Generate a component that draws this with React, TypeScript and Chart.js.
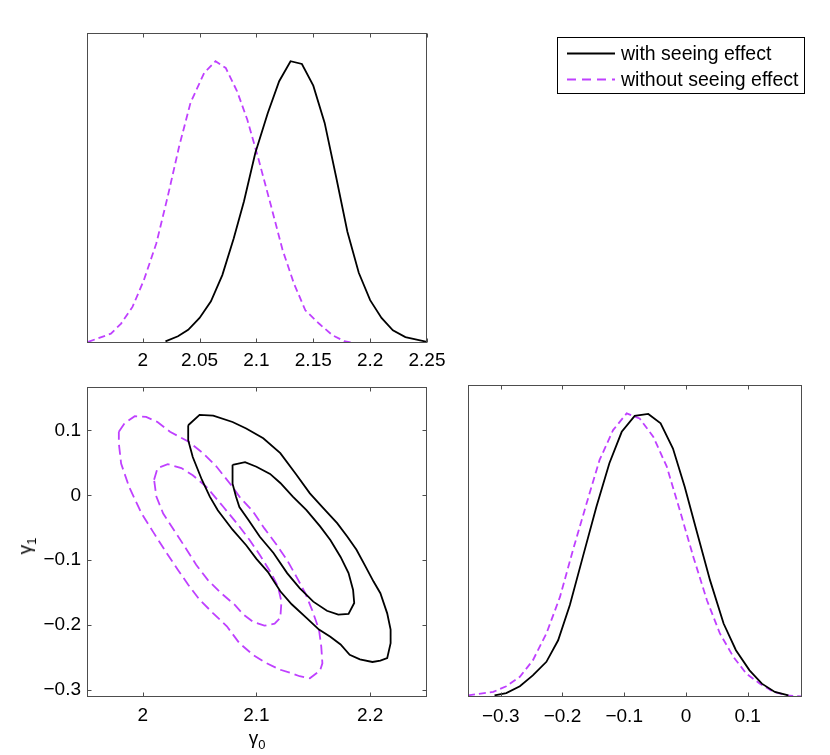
import React, { useEffect, useRef } from "react";
import { Chart, registerables } from "chart.js";

Chart.register(...registerables);

const FONT = '"Liberation Sans", Arial, Helvetica, sans-serif';
const BLACK = "#000000";
const PURPLE = "#bf40ff";
const FRAME = "#4d4d4d";

// ---- gamma0 marginal (top panel) ----
const g0Min = 1.951;
const g0Max = 2.25;
const g0Ticks = [2, 2.05, 2.1, 2.15, 2.2, 2.25];
const g0TickLabels = ["2", "2.05", "2.1", "2.15", "2.2", "2.25"];

const g0WithX = [2.02, 2.031, 2.04, 2.05, 2.06, 2.07, 2.08, 2.089, 2.099, 2.11, 2.12, 2.13, 2.14, 2.15, 2.16, 2.17, 2.18, 2.19, 2.2, 2.21, 2.22, 2.231, 2.25];
const g0WithY = [0.006, 0.024, 0.047, 0.089, 0.148, 0.241, 0.371, 0.502, 0.674, 0.816, 0.929, 1.0, 0.99, 0.913, 0.781, 0.591, 0.395, 0.249, 0.152, 0.089, 0.045, 0.021, 0.004];

const g0WithoutX = [1.952, 1.972, 1.981, 1.991, 2.001, 2.012, 2.022, 2.032, 2.042, 2.054, 2.064, 2.073, 2.083, 2.092, 2.102, 2.113, 2.123, 2.133, 2.143, 2.155, 2.167, 2.177, 2.186];
const g0WithoutY = [0.004, 0.033, 0.069, 0.128, 0.223, 0.354, 0.52, 0.697, 0.852, 0.958, 1.0, 0.976, 0.893, 0.792, 0.65, 0.484, 0.33, 0.211, 0.116, 0.069, 0.027, 0.007, 0.0];

// ---- gamma1 marginal (bottom right panel) ----
const g1Min = -0.353;
const g1Max = 0.188;
const g1Ticks = [-0.3, -0.2, -0.1, 0, 0.1];
const g1TickLabels = ["\u22120.3", "\u22120.2", "\u22120.1", "0", "0.1"];

const g1WithX = [-0.31, -0.291, -0.269, -0.248, -0.226, -0.207, -0.188, -0.167, -0.145, -0.124, -0.104, -0.083, -0.061, -0.041, -0.021, -0.002, 0.017, 0.039, 0.061, 0.081, 0.103, 0.123, 0.144, 0.166];
const g1WithY = [0.006, 0.014, 0.038, 0.076, 0.124, 0.2, 0.324, 0.494, 0.671, 0.824, 0.935, 0.991, 0.998, 0.965, 0.876, 0.741, 0.588, 0.412, 0.259, 0.165, 0.094, 0.047, 0.018, 0.006];

const g1WithoutX = [-0.353, -0.312, -0.291, -0.269, -0.248, -0.226, -0.204, -0.183, -0.161, -0.14, -0.118, -0.096, -0.075, -0.053, -0.031, -0.01, 0.012, 0.034, 0.055, 0.077, 0.098, 0.12, 0.142, 0.163, 0.188];
const g1WithoutY = [0.006, 0.018, 0.038, 0.071, 0.129, 0.224, 0.353, 0.518, 0.682, 0.835, 0.941, 1.0, 0.982, 0.918, 0.812, 0.659, 0.494, 0.341, 0.224, 0.141, 0.082, 0.047, 0.018, 0.006, 0.002];

// ---- joint contours (bottom left panel) ----
const jointXTicks = [2, 2.1, 2.2];
const jointXLabels = ["2", "2.1", "2.2"];
const jointYMin = -0.311;
const jointYMax = 0.167;
const jointYTicks = [-0.3, -0.2, -0.1, 0, 0.1];
const jointYLabels = ["\u22120.3", "\u22120.2", "\u22120.1", "0", "0.1"];

const withOuterX = [2.04, 2.05, 2.062, 2.079, 2.091, 2.106, 2.121, 2.135, 2.147, 2.159, 2.171, 2.18, 2.188, 2.196, 2.203, 2.209, 2.215, 2.218, 2.218, 2.215, 2.209, 2.202, 2.191, 2.182, 2.174, 2.165, 2.155, 2.144, 2.131, 2.121, 2.11, 2.1, 2.091, 2.079, 2.066, 2.059, 2.052, 2.044, 2.04];
const withOuterY = [0.108, 0.124, 0.123, 0.113, 0.103, 0.088, 0.065, 0.032, 0.003, -0.02, -0.043, -0.064, -0.084, -0.11, -0.133, -0.151, -0.182, -0.207, -0.228, -0.251, -0.255, -0.257, -0.253, -0.246, -0.23, -0.218, -0.207, -0.189, -0.168, -0.148, -0.118, -0.098, -0.077, -0.053, -0.023, -0.002, 0.024, 0.059, 0.085];

const withInnerX = [2.079, 2.09, 2.1, 2.112, 2.121, 2.132, 2.144, 2.156, 2.165, 2.174, 2.181, 2.185, 2.186, 2.181, 2.172, 2.162, 2.15, 2.138, 2.127, 2.115, 2.103, 2.093, 2.085, 2.082, 2.079];
const withInnerY = [0.047, 0.051, 0.044, 0.033, 0.019, -0.002, -0.023, -0.048, -0.069, -0.095, -0.12, -0.146, -0.166, -0.183, -0.184, -0.178, -0.164, -0.143, -0.12, -0.089, -0.064, -0.038, -0.018, -0.002, 0.018];

const withoutOuterX = [1.979, 1.984, 1.993, 2.003, 2.013, 2.024, 2.04, 2.053, 2.065, 2.079, 2.085, 2.097, 2.107, 2.118, 2.127, 2.135, 2.143, 2.149, 2.155, 2.157, 2.158, 2.156, 2.147, 2.138, 2.132, 2.121, 2.109, 2.097, 2.085, 2.074, 2.062, 2.05, 2.04, 2.031, 2.021, 2.009, 1.999, 1.988, 1.981, 1.979];
const withoutOuterY = [0.098, 0.111, 0.122, 0.121, 0.113, 0.098, 0.083, 0.065, 0.044, 0.013, -0.002, -0.025, -0.051, -0.077, -0.1, -0.125, -0.151, -0.177, -0.207, -0.233, -0.259, -0.27, -0.282, -0.279, -0.275, -0.269, -0.259, -0.246, -0.228, -0.202, -0.182, -0.161, -0.138, -0.115, -0.089, -0.056, -0.028, 0.013, 0.049, 0.08];

const withoutInnerX = [2.01, 2.013, 2.022, 2.034, 2.044, 2.056, 2.071, 2.085, 2.094, 2.103, 2.113, 2.119, 2.122, 2.121, 2.116, 2.107, 2.097, 2.088, 2.081, 2.069, 2.057, 2.047, 2.038, 2.028, 2.018, 2.012];
const withoutInnerY = [0.024, 0.042, 0.048, 0.042, 0.031, 0.013, -0.018, -0.048, -0.069, -0.092, -0.12, -0.141, -0.164, -0.189, -0.198, -0.201, -0.195, -0.183, -0.169, -0.151, -0.13, -0.107, -0.082, -0.055, -0.028, -0.002];

const LABEL_WITH = "with seeing effect";
const LABEL_WITHOUT = "without seeing effect";

const pts = (xs: number[], ys: number[], closed = false) => {
  const p = xs.map((x, i) => ({ x, y: ys[i] }));
  if (closed) p.push({ ...p[0] });
  return p;
};

const line = (label: string, data: { x: number; y: number }[], color: string, dash: number[]) => ({
  label,
  data,
  showLine: true,
  borderColor: color,
  backgroundColor: color,
  borderWidth: 1.8,
  borderDash: dash,
  pointRadius: 0,
  pointHoverRadius: 0,
  tension: 0,
  fill: false,
});

// box with inward ticks, matlab style
const framePlugin = {
  id: "frame",
  afterDatasetsDraw(chart: any, _args: any, opts: any) {
    const { ctx, chartArea: a } = chart;
    const l = Math.round(a.left) + 0.5;
    const r = Math.round(a.right) - 0.5;
    const t = Math.round(a.top) + 0.5;
    const b = Math.round(a.bottom) - 0.5;
    const len = 4;
    ctx.save();
    ctx.strokeStyle = FRAME;
    ctx.lineWidth = 1;
    ctx.setLineDash([]);
    ctx.strokeRect(l, t, r - l, b - t);
    ctx.beginPath();
    chart.scales.x.ticks.forEach((tk: any) => {
      const px = Math.round(chart.scales.x.getPixelForValue(tk.value)) + 0.5;
      ctx.moveTo(px, b);
      ctx.lineTo(px, b - len);
      ctx.moveTo(px, t);
      ctx.lineTo(px, t + len);
    });
    if (opts && opts.yTicks) {
      chart.scales.y.ticks.forEach((tk: any) => {
        const py = Math.round(chart.scales.y.getPixelForValue(tk.value)) + 0.5;
        ctx.moveTo(l, py);
        ctx.lineTo(l + len, py);
        ctx.moveTo(r, py);
        ctx.lineTo(r - len, py);
      });
    }
    ctx.stroke();
    ctx.restore();
  },
};

const legendBoxPlugin = {
  id: "legendBox",
  afterDraw(chart: any, _args: any, opts: any) {
    const { ctx } = chart;
    const { left, top, width, height } = opts;
    ctx.save();
    ctx.fillStyle = "#fff";
    ctx.fillRect(left, top, width, height);
    ctx.strokeStyle = BLACK;
    ctx.lineWidth = 1;
    ctx.setLineDash([]);
    ctx.strokeRect(left + 0.5, top + 0.5, width, height);
    ctx.font = `19.5px ${FONT}`;
    ctx.textBaseline = "middle";
    chart.data.datasets.forEach((ds: any, i: number) => {
      const y = top + 16.5 + i * 26;
      ctx.beginPath();
      ctx.strokeStyle = ds.borderColor;
      ctx.lineWidth = ds.borderWidth;
      ctx.setLineDash(ds.borderDash.length ? [9, 6] : []);
      ctx.moveTo(left + 10, y);
      ctx.lineTo(left + 58, y);
      ctx.stroke();
      ctx.fillStyle = BLACK;
      ctx.fillText(ds.label, left + 64, y + 1);
    });
    ctx.restore();
  },
};

const xAxis = (min: number, max: number, ticks: number[], labels: string[], height: number, pad: number) => ({
  type: "linear" as const,
  min,
  max,
  grid: { display: false, drawTicks: false },
  border: { display: false },
  ticks: {
    color: BLACK,
    font: { family: FONT, size: 19 },
    padding: pad,
    maxRotation: 0,
    autoSkip: false,
    callback: (_v: any, i: number) => labels[i],
  },
  afterBuildTicks: (s: any) => {
    s.ticks = ticks.map((v) => ({ value: v }));
  },
  afterFit: (s: any) => {
    s.height = height;
    s.paddingLeft = 0;
    s.paddingRight = 0;
  },
});

const yAxis = (min: number, max: number, width: number, ticks?: number[], labels?: string[]) => ({
  type: "linear" as const,
  min,
  max,
  grid: { display: false, drawTicks: false },
  border: { display: false },
  ticks: {
    display: !!ticks,
    color: BLACK,
    font: { family: FONT, size: 19 },
    padding: 6,
    autoSkip: false,
    callback: (_v: any, i: number) => (labels ? labels[i] : ""),
  },
  afterBuildTicks: (s: any) => {
    if (ticks) s.ticks = ticks.map((v) => ({ value: v }));
  },
  afterFit: (s: any) => {
    s.width = width;
    s.paddingTop = 0;
    s.paddingBottom = 0;
  },
});

const baseOptions = (padding: any, scales: any, plugins: any) => ({
  responsive: true,
  maintainAspectRatio: false,
  animation: false as const,
  events: [],
  layout: { padding },
  scales,
  plugins: {
    legend: { display: false },
    tooltip: { enabled: false },
    ...plugins,
  },
});

const App: React.FC = () => {
  const topRef = useRef<HTMLCanvasElement>(null);
  const jointRef = useRef<HTMLCanvasElement>(null);
  const rightRef = useRef<HTMLCanvasElement>(null);

  useEffect(() => {
    if (!topRef.current || !jointRef.current || !rightRef.current) return;

    const top = new Chart(topRef.current, {
      type: "scatter",
      data: {
        datasets: [
          line(LABEL_WITH, pts(g0WithX, g0WithY), BLACK, []),
          line(LABEL_WITHOUT, pts(g0WithoutX, g0WithoutY), PURPLE, [7, 4]),
        ],
      },
      options: baseOptions(
        { left: 0, top: 33, right: 403, bottom: 0 },
        { x: xAxis(g0Min, g0Max, g0Ticks, g0TickLabels, 37, 6), y: yAxis(0, 1.1, 87) },
        { frame: { yTicks: false }, legendBox: { left: 557, top: 37, width: 247, height: 56 } }
      ) as any,
      plugins: [framePlugin, legendBoxPlugin],
    });

    const joint = new Chart(jointRef.current, {
      type: "scatter",
      data: {
        datasets: [
          line(LABEL_WITH, pts(withOuterX, withOuterY, true), BLACK, []),
          line(LABEL_WITH, pts(withInnerX, withInnerY, true), BLACK, []),
          line(LABEL_WITHOUT, pts(withoutOuterX, withoutOuterY, true), PURPLE, [10, 5]),
          line(LABEL_WITHOUT, pts(withoutInnerX, withoutInnerY, true), PURPLE, [10, 5]),
        ],
      },
      options: baseOptions(
        { left: 0, top: 7, right: 23, bottom: 0 },
        {
          x: xAxis(g0Min, g0Max, jointXTicks, jointXLabels, 58, 7),
          y: yAxis(jointYMin, jointYMax, 87, jointYTicks, jointYLabels),
        },
        { frame: { yTicks: true } }
      ) as any,
      plugins: [framePlugin],
    });

    const right = new Chart(rightRef.current, {
      type: "scatter",
      data: {
        datasets: [
          line(LABEL_WITH, pts(g1WithX, g1WithY), BLACK, []),
          line(LABEL_WITHOUT, pts(g1WithoutX, g1WithoutY), PURPLE, [7, 4]),
        ],
      },
      options: baseOptions(
        { left: 0, top: 5, right: 28, bottom: 0 },
        { x: xAxis(g1Min, g1Max, g1Ticks, g1TickLabels, 58, 8), y: yAxis(0, 1.1, 18) },
        { frame: { yTicks: false } }
      ) as any,
      plugins: [framePlugin],
    });

    return () => {
      top.destroy();
      joint.destroy();
      right.destroy();
    };
  }, []);

  const box = (left: number, top: number, width: number, height: number): React.CSSProperties => ({
    position: "absolute",
    left,
    top,
    width,
    height,
  });

  return (
    <div style={{ position: "absolute", left: 0, top: 0, width: 830, height: 755, background: "#fff", fontFamily: FONT }}>
      <div style={box(0, 0, 830, 380)}>
        <canvas ref={topRef} />
      </div>
      <div style={box(0, 380, 450, 375)}>
        <canvas ref={jointRef} />
      </div>
      <div style={box(450, 380, 380, 375)}>
        <canvas ref={rightRef} />
      </div>
      <div
        style={{
          position: "absolute",
          left: 257,
          top: 741,
          transform: "translate(-50%, -50%)",
          fontSize: 19,
          lineHeight: "19px",
          whiteSpace: "nowrap",
        }}
      >
        γ<sub style={{ fontSize: 13, verticalAlign: "-5px" }}>0</sub>
      </div>
      <div
        style={{
          position: "absolute",
          left: 28,
          top: 546,
          transform: "translate(-50%, -50%) rotate(-90deg)",
          fontSize: 19,
          lineHeight: "19px",
          whiteSpace: "nowrap",
        }}
      >
        γ<sub style={{ fontSize: 13, verticalAlign: "-5px" }}>1</sub>
      </div>
    </div>
  );
};

export default App;
